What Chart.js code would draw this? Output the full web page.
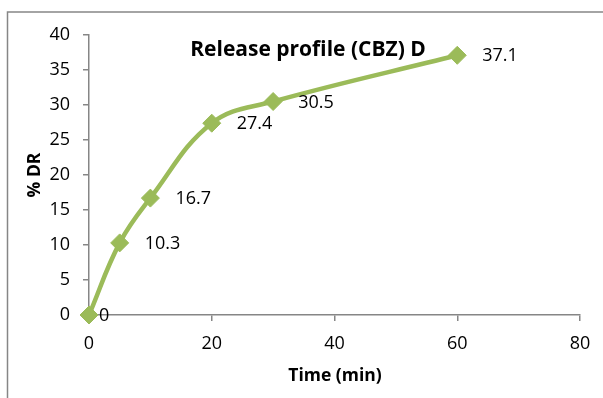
<!DOCTYPE html>
<html>
<head>
<meta charset="utf-8">
<script src="https://cdn.jsdelivr.net/npm/chart.js@4/dist/chart.umd.min.js"></script>
<style>
  html, body { margin: 0; padding: 0; background: #fff; }
  #wrap { width: 603px; height: 398px; position: relative; }
</style>
</head>
<body>
<div id="wrap"><canvas id="c" width="603" height="398"></canvas></div>
<script>
// Release profile of CBZ, formulation D
const timeMin = [0, 5, 10, 20, 30, 60];
const percentDR = [0, 10.3, 16.7, 27.4, 30.5, 37.1];
const xTicks = [0, 20, 40, 60, 80];
const yTicks = [0, 5, 10, 15, 20, 25, 30, 35, 40];

const chartTitle = 'Release profile (CBZ) D';
const xTitle = 'Time (min)';
const yTitle = '% DR';

const GREEN = '#9BBB59';
const AXIS = '#868686';
const FONT = '"Open Sans", "Liberation Sans", Arial, sans-serif';

const points = timeMin.map((t, i) => ({ x: t, y: percentDR[i] }));

// Frame, title, axis titles and point value labels
const decorations = {
  id: 'decorations',
  beforeDraw(chart) {
    const ctx = chart.ctx;
    ctx.save();
    ctx.strokeStyle = AXIS;
    ctx.lineWidth = 1.5;
    ctx.beginPath();
    ctx.moveTo(7.5, 400);
    ctx.lineTo(7.5, 12);
    ctx.lineTo(610, 12);
    ctx.stroke();
    ctx.restore();
  },
  afterDatasetsDraw(chart) {
    const ctx = chart.ctx;
    ctx.save();
    ctx.fillStyle = '#000';

    // value labels to the right of each marker
    ctx.font = '18px ' + FONT;
    ctx.textAlign = 'left';
    ctx.textBaseline = 'middle';
    const meta = chart.getDatasetMeta(0);
    meta.data.forEach((pt, i) => {
      const v = percentDR[i];
      const dx = v === 0 ? 10 : 25;
      ctx.fillText(String(v), pt.x + dx, pt.y + 1);
    });

    // chart title
    ctx.font = 'bold 21px ' + FONT;
    ctx.textAlign = 'center';
    ctx.fillText(chartTitle, 308, 50);

    // x axis title
    ctx.font = 'bold 17.5px ' + FONT;
    ctx.fillText(xTitle, 335, 376);

    // y axis title
    ctx.font = 'bold 17.5px ' + FONT;
    ctx.translate(35, 175);
    ctx.rotate(-Math.PI / 2);
    ctx.fillText(yTitle, 0, 0);
    ctx.restore();
  }
};

new Chart(document.getElementById('c'), {
  type: 'scatter',
  data: {
    datasets: [{
      data: points,
      showLine: true,
      tension: 0.4,
      borderColor: GREEN,
      backgroundColor: GREEN,
      borderWidth: 4.5,
      pointStyle: 'rectRot',
      pointRadius: 9,
      pointBorderWidth: 1,
      pointBackgroundColor: GREEN,
      pointBorderColor: GREEN,
      clip: false
    }]
  },
  options: {
    responsive: false,
    animation: false,
    devicePixelRatio: 1,
    layout: { padding: { left: 0, right: 23, top: 35, bottom: 0 } },
    plugins: {
      legend: { display: false },
      title: { display: false },
      tooltip: { enabled: false }
    },
    scales: {
      x: {
        type: 'linear',
        min: xTicks[0],
        max: xTicks[xTicks.length - 1],
        afterFit(scale) { scale.height = 83; },
        afterBuildTicks(scale) { scale.ticks = xTicks.map(v => ({ value: v })); },
        border: { color: AXIS, width: 1.5 },
        grid: { drawOnChartArea: false, drawTicks: true, tickLength: 6, color: AXIS, lineWidth: 1.5 },
        ticks: { color: '#000', font: { family: FONT, size: 18 }, padding: 12 }
      },
      y: {
        type: 'linear',
        min: yTicks[0],
        max: yTicks[yTicks.length - 1],
        afterFit(scale) { scale.width = 89; },
        afterBuildTicks(scale) { scale.ticks = yTicks.map(v => ({ value: v })); },
        border: { color: AXIS, width: 1.5 },
        grid: { drawOnChartArea: false, drawTicks: true, tickLength: 6, color: AXIS, lineWidth: 1.5 },
        ticks: { color: '#000', font: { family: FONT, size: 18 }, padding: 13 }
      }
    }
  },
  plugins: [decorations]
});
</script>
</body>
</html>
